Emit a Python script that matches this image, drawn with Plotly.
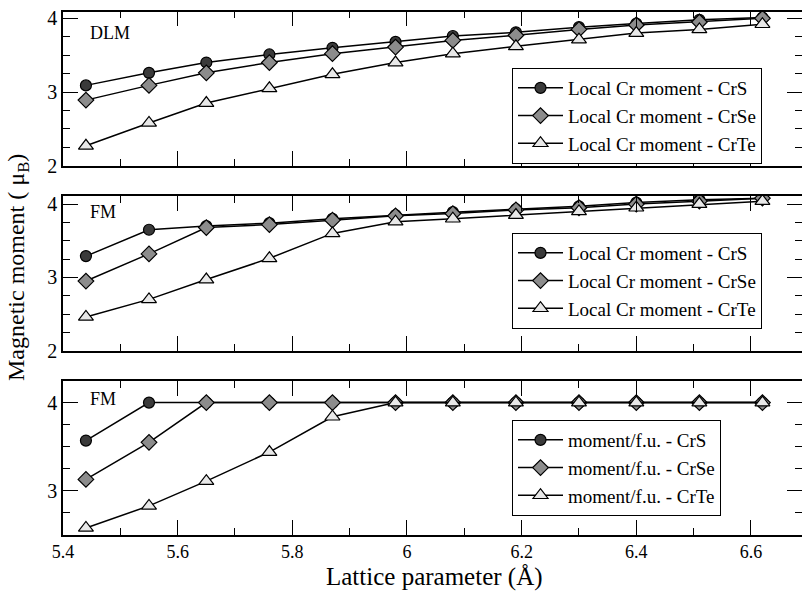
import plotly.graph_objects as go

# ---- data ----
lattice = [5.44, 5.55, 5.65, 5.76, 5.87, 5.98, 6.08, 6.19, 6.30, 6.40, 6.51, 6.62]

dlm_crs = [3.09, 3.26, 3.40, 3.51, 3.60, 3.68, 3.76, 3.81, 3.88, 3.93, 3.98, 4.01]
dlm_crse = [2.89, 3.09, 3.26, 3.40, 3.52, 3.61, 3.70, 3.77, 3.85, 3.91, 3.95, 4.00]
dlm_crte = [2.27, 2.58, 2.85, 3.05, 3.24, 3.40, 3.52, 3.62, 3.71, 3.80, 3.85, 3.92]

fm_crs = [3.29, 3.65, 3.70, 3.74, 3.80, 3.85, 3.89, 3.93, 3.97, 4.02, 4.06, 4.08]
fm_crse = [2.95, 3.32, 3.68, 3.72, 3.78, 3.84, 3.87, 3.92, 3.95, 4.00, 4.04, 4.08]
fm_crte = [2.46, 2.70, 2.97, 3.26, 3.60, 3.76, 3.80, 3.85, 3.90, 3.95, 4.00, 4.04]

fu_crs = [3.57, 4.00, 4.00, 4.00, 4.00, 4.00, 4.00, 4.00, 4.00, 4.00, 4.00, 4.00]
fu_crse = [3.13, 3.55, 4.00, 4.00, 4.00, 4.00, 4.00, 4.00, 4.00, 4.00, 4.00, 4.00]
fu_crte = [2.58, 2.83, 3.11, 3.44, 3.84, 4.00, 4.00, 4.00, 4.00, 4.00, 4.00, 4.00]

local_names = ["Local Cr moment - CrS", "Local Cr moment - CrSe", "Local Cr moment - CrTe"]
fu_names = ["moment/f.u. - CrS", "moment/f.u. - CrSe", "moment/f.u. - CrTe"]
panel_labels = ["DLM", "FM", "FM"]
x_title = "Lattice parameter (Å)"
y_title = "Magnetic moment ( μ<sub>B</sub>)"

# ---- styles ----
FONT = "Liberation Serif, Times New Roman, serif"
styles = [
    dict(symbol="circle", size=11, color="#3a3a3a"),
    dict(symbol="diamond", size=12, color="#8c8c8c"),
    dict(symbol="triangle-up", size=13, color="#e8e8e8"),
]

panels = [
    (dict(x="x", y="y"), [dlm_crs, dlm_crse, dlm_crte], local_names, "legend"),
    (dict(x="x2", y="y2"), [fm_crs, fm_crse, fm_crte], local_names, "legend2"),
    (dict(x="x3", y="y3"), [fu_crs, fu_crse, fu_crte], fu_names, "legend3"),
]

fig = go.Figure()
for axes, series, names, leg in panels:
    for vals, name, st in zip(series, names, styles):
        fig.add_trace(go.Scatter(
            x=lattice, y=vals, name=name, mode="lines+markers",
            xaxis=axes["x"], yaxis=axes["y"], legend=leg,
            line=dict(color="black", width=1.5),
            marker=dict(symbol=st["symbol"], size=st["size"], color=st["color"],
                        line=dict(color="black", width=1.2)),
        ))

W, H = 802, 593
L = 63
PW = W - L


def py(px):
    return 1 - px / H


def pxx(px):
    return (px - L) / PW


def xax(show_labels, anchor):
    return dict(
        range=[5.4, 6.689], tick0=5.4, dtick=0.2, ticks="inside", ticklen=15,
        tickwidth=1.3, tickcolor="black", showline=True, linecolor="black",
        linewidth=1.5, mirror="ticks", showgrid=False, zeroline=False,
        showticklabels=show_labels, anchor=anchor, domain=[0, 1],
        automargin=False,
        tickfont=dict(family=FONT, size=18, color="black"),
        minor=dict(dtick=0.1, ticks="inside", ticklen=7, tickwidth=1.3,
                   tickcolor="black", showgrid=False),
    )


def yax(rng, dom, anchor):
    return dict(
        range=rng, tick0=0, dtick=1, ticks="inside", ticklen=15,
        tickwidth=1.3, tickcolor="black", showline=True, linecolor="black",
        linewidth=1.5, mirror="ticks", showgrid=False, zeroline=False,
        anchor=anchor, domain=dom, automargin=False,
        tickfont=dict(family=FONT, size=20, color="black"),
        minor=dict(dtick=0.25, ticks="inside", ticklen=7, tickwidth=1.3,
                   tickcolor="black", showgrid=False),
    )


legend_common = dict(
    bgcolor="white", bordercolor="black", borderwidth=1,
    font=dict(family=FONT, size=19, color="black"),
    xanchor="left", yanchor="top", itemwidth=45, tracegroupgap=0,
)

fig.update_layout(
    width=W, height=H, autosize=False,
    font=dict(family=FONT, color="black"),
    margin=dict(l=L, r=0, t=0, b=0, pad=0),
    paper_bgcolor="white", plot_bgcolor="white",
    xaxis=xax(False, "y"),
    xaxis2=xax(False, "y2"),
    xaxis3=xax(True, "y3"),
    yaxis=yax([2, 4.09], [py(165.7), py(11.7)], "x"),
    yaxis2=yax([2, 4.11], [py(350.7), py(196)], "x2"),
    yaxis3=yax([2.5, 4.245], [py(535), py(381)], "x3"),
    legend=dict(x=pxx(512), y=py(68), **legend_common),
    legend2=dict(x=pxx(512), y=py(233), **legend_common),
    legend3=dict(x=pxx(512), y=py(420), **legend_common),
    showlegend=True,
)

# panel labels
label_y = [33, 212, 399]
for lbl, yy in zip(panel_labels, label_y):
    fig.add_annotation(text=lbl, xref="paper", yref="paper", x=pxx(88), y=py(yy),
                       xanchor="left", yanchor="middle", showarrow=False,
                       font=dict(family=FONT, size=18, color="black"))

fig.add_annotation(text=x_title, xref="paper", yref="paper", x=pxx(434), y=py(577),
                   xanchor="center", yanchor="middle", showarrow=False,
                   font=dict(family=FONT, size=25, color="black"))
fig.add_annotation(text=y_title, xref="paper", yref="paper", x=pxx(18), y=py(268),
                   xanchor="center", yanchor="middle", showarrow=False, textangle=-90,
                   font=dict(family=FONT, size=24, color="black"))

fig.write_html("out.html")
